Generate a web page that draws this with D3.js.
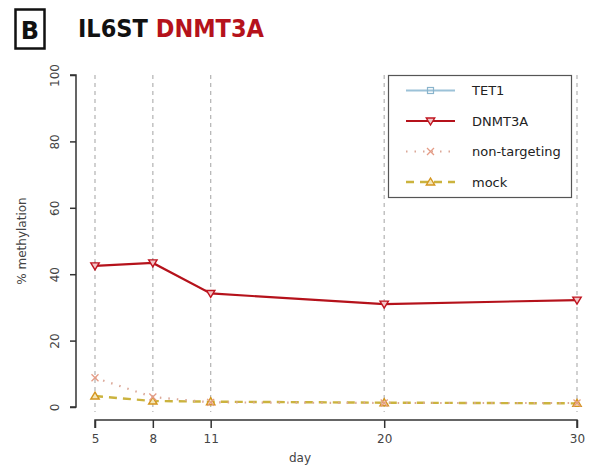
<!DOCTYPE html>
<html>
<head>
<meta charset="utf-8">
<script src="https://cdn.jsdelivr.net/npm/d3@7"></script>
<style>
  body { margin: 0; background: #fff; }
  text { font-family: "DejaVu Sans", sans-serif; }
</style>
</head>
<body>
<script>
// data
var days = [5, 8, 11, 20, 30];
var yTicks = [0, 20, 40, 60, 80, 100];
var tet1 = [];
var dnmt3a = [42.5, 43.4, 34.2, 31.0, 32.2];
var dnmt3aErr = [1.3, 1.5, 0.6, 0.6, 0.4];
var nonTargeting = [8.8, 3.0, 1.4, 1.2, 1.2];
var mock = [3.3, 1.8, 1.6, 1.3, 1.1];
var legendNames = ["TET1", "DNMT3A", "non-targeting", "mock"];

var W = 590, H = 468;
var svg = d3.select("body").append("svg").attr("width", W).attr("height", H);

var x = d3.scaleLinear().domain([5, 30]).range([95, 577]);
var y = d3.scaleLinear().domain([0, 100]).range([407, 75]);

// title
svg.append("rect").attr("x", 15.5).attr("y", 9.5).attr("width", 29).attr("height", 39)
  .attr("fill", "none").attr("stroke", "#111").attr("stroke-width", 2.5);
svg.append("text").attr("x", 30).attr("y", 39).attr("text-anchor", "middle")
  .style("font-size", "24px").style("font-weight", "bold").attr("fill", "#111").text("B");
var title = svg.append("text").attr("x", 78).attr("y", 37)
  .style("font-size", "25px").style("font-weight", "bold").style("font-family", "'DejaVu Sans Condensed', 'DejaVu Sans', sans-serif");
title.append("tspan").attr("fill", "#111").text("IL6ST ");
title.append("tspan").attr("fill", "#b5121b").text("DNMT3A");

// vertical dotted grid
svg.append("g").selectAll("line").data(days).enter().append("line")
  .attr("x1", d => x(d)).attr("x2", d => x(d))
  .attr("y1", 75).attr("y2", 412)
  .attr("stroke", "#b8b8b8").attr("stroke-width", 1.3).attr("stroke-dasharray", "4,4");

// axes
var yAxis = svg.append("g").attr("transform", "translate(76,0)")
  .call(d3.axisLeft(y).tickValues(yTicks).tickSize(6).tickPadding(6));
yAxis.selectAll(".tick text").each(function(d) {
  d3.select(this).attr("transform", "translate(-17,0) rotate(-90)").attr("x", 0).attr("y", 0)
    .attr("text-anchor", "middle").attr("dy", "0");
});
var xAxis = svg.append("g").attr("transform", "translate(0,420)")
  .call(d3.axisBottom(x).tickValues(days).tickSize(8).tickPadding(6));
[yAxis, xAxis].forEach(function(g) {
  g.select(".domain").attr("stroke", "#333").attr("stroke-width", 1.5);
  g.selectAll(".tick line").attr("stroke", "#333").attr("stroke-width", 1.5);
  g.selectAll(".tick text").attr("fill", "#444").style("font-size", "12px");
});
xAxis.select(".domain").attr("d", "M" + x(5) + ",8V0H" + x(30) + "V8");
yAxis.select(".domain").attr("d", "M-6," + y(100) + "H0V" + y(0) + "H-6");

svg.append("text").attr("x", 300).attr("y", 462).attr("text-anchor", "middle")
  .attr("fill", "#444").style("font-size", "12px").text("day");
svg.append("text").attr("transform", "translate(26,241) rotate(-90)").attr("text-anchor", "middle")
  .attr("fill", "#444").style("font-size", "12px").text("% methylation");

// series
var series = [
  { name: "TET1", vals: tet1, color: "#9cc2d8", dash: null, width: 2, marker: "square", mcol: "#8ab4cc" },
  { name: "DNMT3A", vals: dnmt3a, color: "#b5121b", dash: null, width: 2.2, marker: "down", mcol: "#c0141f" },
  { name: "non-targeting", vals: nonTargeting, color: "#dba898", dash: "1.5,7", width: 2.2, marker: "x", mcol: "#e59c86" },
  { name: "mock", vals: mock, color: "#cbb33e", dash: "8,6", width: 2.4, marker: "up", mcol: "#d4951e" }
];

var line = d3.line().x(d => x(d[0])).y(d => y(d[1]));

function drawMarker(g, type, cx, cy, col) {
  var s = 4.2;
  if (type === "square") {
    g.append("rect").attr("x", cx - 3).attr("y", cy - 3).attr("width", 6).attr("height", 6)
      .attr("fill", "none").attr("stroke", col).attr("stroke-width", 1.2);
  } else if (type === "down") {
    g.append("path").attr("d", "M" + (cx - s) + "," + (cy - 3) + "L" + (cx + s) + "," + (cy - 3) + "L" + cx + "," + (cy + 4) + "Z")
      .attr("fill", "#f3c6c8").attr("stroke", col).attr("stroke-width", 1.4);
  } else if (type === "up") {
    g.append("path").attr("d", "M" + (cx - s) + "," + (cy + 3) + "L" + (cx + s) + "," + (cy + 3) + "L" + cx + "," + (cy - 4) + "Z")
      .attr("fill", "#f3e6b8").attr("stroke", col).attr("stroke-width", 1.4);
  } else if (type === "x") {
    g.append("path").attr("d", "M" + (cx - 3.5) + "," + (cy - 3.5) + "L" + (cx + 3.5) + "," + (cy + 3.5) + "M" + (cx - 3.5) + "," + (cy + 3.5) + "L" + (cx + 3.5) + "," + (cy - 3.5))
      .attr("fill", "none").attr("stroke", col).attr("stroke-width", 1.3);
  }
}

var plot = svg.append("g");
// error bars for DNMT3A
plot.selectAll("line.err").data(days).enter().append("line").attr("class", "err")
  .attr("x1", d => x(d)).attr("x2", d => x(d))
  .attr("y1", (d, i) => y(dnmt3a[i] + dnmt3aErr[i])).attr("y2", (d, i) => y(dnmt3a[i] - dnmt3aErr[i]))
  .attr("stroke", "#999").attr("stroke-width", 1);

series.slice().reverse().forEach(function(s) {
  if (!s.vals.length) return;
  var pts = s.vals.map((v, i) => [days[i], v]);
  plot.append("path").datum(pts).attr("d", line).attr("fill", "none")
    .attr("stroke", s.color).attr("stroke-width", s.width)
    .attr("stroke-dasharray", s.dash);
  pts.forEach(function(p) { drawMarker(plot, s.marker, x(p[0]), y(p[1]), s.mcol); });
});

// legend
var lg = svg.append("g");
lg.append("rect").attr("x", 388.5).attr("y", 75.5).attr("width", 183).attr("height", 122)
  .attr("fill", "#fff").attr("stroke", "#555").attr("stroke-width", 1.2);
series.forEach(function(s, i) {
  var ly = 90.5 + i * 30.5;
  lg.append("line").attr("x1", 406).attr("x2", 455).attr("y1", ly).attr("y2", ly)
    .attr("stroke", s.color).attr("stroke-width", s.width).attr("stroke-dasharray", s.dash);
  drawMarker(lg, s.marker, 430.5, ly, s.mcol);
  lg.append("text").attr("x", 472).attr("y", ly).attr("dy", "0.35em")
    .attr("fill", "#222").style("font-size", "13px").text(legendNames[i]);
});
</script>
</body>
</html>
